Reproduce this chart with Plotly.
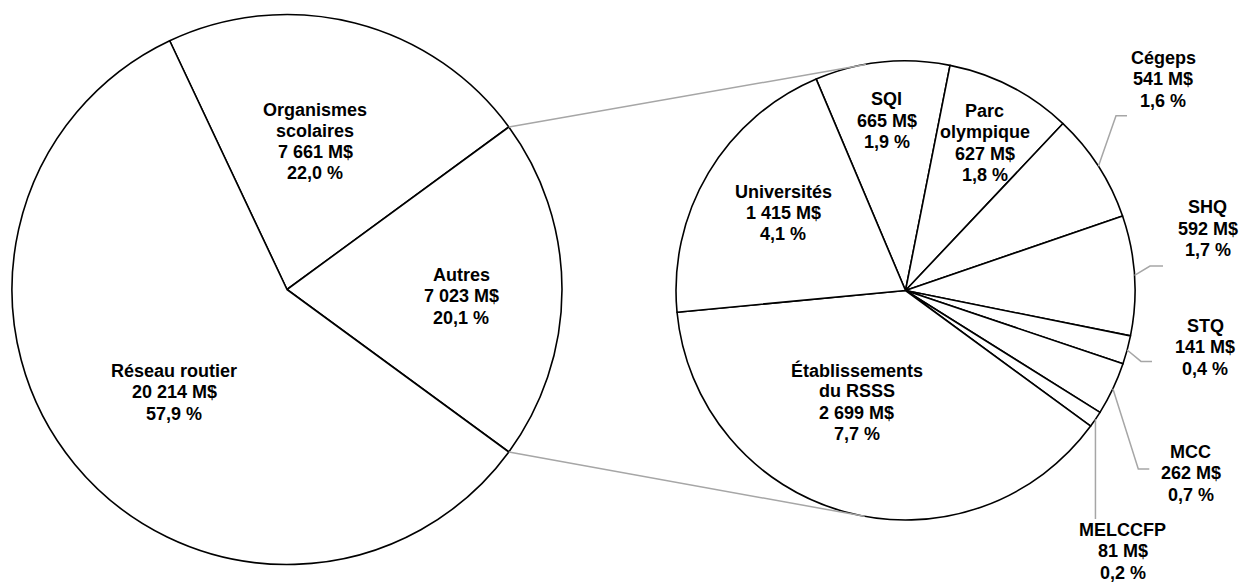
import math
import plotly.graph_objects as go

# ---------------- data ----------------
main_labels = ["Organismes scolaires", "Autres", "Réseau routier"]
main_values = [7661, 7023, 20214]
main_pct = [22.0, 20.1, 57.9]

sub_labels = ["SQI", "Parc olympique", "Cégeps", "SHQ", "STQ", "MCC",
              "MELCCFP", "Établissements du RSSS", "Universités"]
sub_values = [665, 627, 541, 592, 141, 262, 81, 2699, 1415]
sub_pct = [1.9, 1.8, 1.6, 1.7, 0.4, 0.7, 0.2, 7.7, 4.1]

# line breaks used for the label text
label_lines = {
    "Organismes scolaires": ["Organismes", "scolaires"],
    "Parc olympique": ["Parc", "olympique"],
    "Établissements du RSSS": ["Établissements", "du RSSS"],
}

# ---------------- layout constants (pixels) ----------------
W, H = 1239, 586
LC, LR = (287.0, 289.5), 275.0        # left pie centre / radius
RC, RR = (905.5, 290.5), 229.5        # right pie centre / radius
RIGHT_ROT = -22.9                     # start angle of the second pie
FS = 18
LINE_H = 21.3
FONT = "Liberation Sans, Arial, sans-serif"
GRAY = "#a6a6a6"

# label anchor (centre x, first line y) in pixels
label_pos = {
    "Organismes scolaires": (315, 109.5),
    "Autres": (461, 275),
    "Réseau routier": (174, 371),
    "SQI": (886.7, 99.3),
    "Parc olympique": (984.7, 111),
    "Cégeps": (1163, 58),
    "SHQ": (1207.5, 207.4),
    "STQ": (1205.3, 326),
    "MCC": (1190.8, 452),
    "MELCCFP": (1122.5, 530),
    "Établissements du RSSS": (856.7, 370),
    "Universités": (783.3, 191.7),
}
# leader elbows for the small slices (pixels): points after the slice edge
leaders = {
    "Cégeps": [(1116, 115.8), (1127, 115.8)],
    "SHQ": [(1150, 266.1), (1163, 266.1)],
    "STQ": [(1141, 361.4), (1152, 361.4)],
    "MCC": [(1138.3, 469), (1149.3, 469)],
    "MELCCFP": [(None, 519)],
}

total = sum(main_values)


def fmt_m(v):
    return f"{v:,}".replace(",", " ") + " M$"


def fmt_p(p):
    return f"{p:.1f}".replace(".", ",") + " %"


def px(x):
    return x / W


def py(y):
    return 1 - y / H


def pie_domain(c, r):
    return dict(x=[px(c[0] - r), px(c[0] + r)], y=[py(c[1] + r), py(c[1] - r)])


# rotation of the main pie so that "Autres" is centred at 3 o'clock
i_aut = main_labels.index("Autres")
start_aut = 90 - 0.5 * 360 * main_values[i_aut] / total
left_rot = start_aut - 360 * sum(main_values[:i_aut]) / total

fig = go.Figure()
common = dict(sort=False, direction="clockwise", textinfo="none",
              hoverinfo="label+value", showlegend=False,
              marker=dict(colors=["white"] * 12, line=dict(color="black", width=1.6)))
fig.add_trace(go.Pie(labels=main_labels, values=main_values, rotation=left_rot,
                     domain=pie_domain(LC, LR), **common))
fig.add_trace(go.Pie(labels=sub_labels, values=sub_values, rotation=RIGHT_ROT,
                     domain=pie_domain(RC, RR), **common))

shapes = []
annotations = []


# connector lines between the two pies (tangent to the second pie)
def tangent(P, C, r, sign):
    dx, dy = P[0] - C[0], P[1] - C[1]
    d = math.hypot(dx, dy)
    base = math.atan2(dy, dx)
    a = math.acos(r / d)
    ang = base + sign * a
    return (C[0] + r * math.cos(ang), C[1] + r * math.sin(ang))


aut_frac = main_values[i_aut] / total
for ang_deg, sign in ((90 - 180 * aut_frac, 1), (90 + 180 * aut_frac, -1)):
    a = math.radians(ang_deg)
    P = (LC[0] + LR * math.sin(a), LC[1] - LR * math.cos(a))
    T = tangent(P, RC, RR, sign)
    shapes.append(dict(type="line", xref="paper", yref="paper",
                       x0=px(P[0]), y0=py(P[1]), x1=px(T[0]), y1=py(T[1]),
                       line=dict(color=GRAY, width=1.5)))

# leader lines from the mid-angle of each small slice
cum = 0
for lab, v in zip(sub_labels, sub_values):
    mid = RIGHT_ROT + 360 * (cum + v / 2) / sum(sub_values)
    cum += v
    if lab not in leaders:
        continue
    a = math.radians(mid)
    sx, sy = RC[0] + RR * math.sin(a), RC[1] - RR * math.cos(a)
    pts = [(sx, sy)]
    for (x, y) in leaders[lab]:
        pts.append((sx if x is None else x, y))
    path = "M " + " L ".join(f"{px(x):.5f},{py(y):.5f}" for x, y in pts)
    shapes.append(dict(type="path", xref="paper", yref="paper", path=path,
                       line=dict(color=GRAY, width=1.5)))


def add_label(name, value, pct):
    cx, y0 = label_pos[name]
    lines = label_lines.get(name, [name]) + [fmt_m(value), fmt_p(pct)]
    for k, t in enumerate(lines):
        annotations.append(dict(text=f"<b>{t}</b>", x=px(cx), y=py(y0 + k * LINE_H),
                                xref="paper", yref="paper", xanchor="center",
                                yanchor="middle", showarrow=False,
                                font=dict(family=FONT, size=FS, color="black")))


for n, v, p in zip(main_labels, main_values, main_pct):
    add_label(n, v, p)
for n, v, p in zip(sub_labels, sub_values, sub_pct):
    add_label(n, v, p)

fig.update_layout(width=W, height=H, margin=dict(l=0, r=0, t=0, b=0),
                  paper_bgcolor="white", plot_bgcolor="white",
                  shapes=shapes, annotations=annotations, showlegend=False)

fig.write_html("out.html", config={"displayModeBar": False},
               post_script="document.body.style.margin='0';")
